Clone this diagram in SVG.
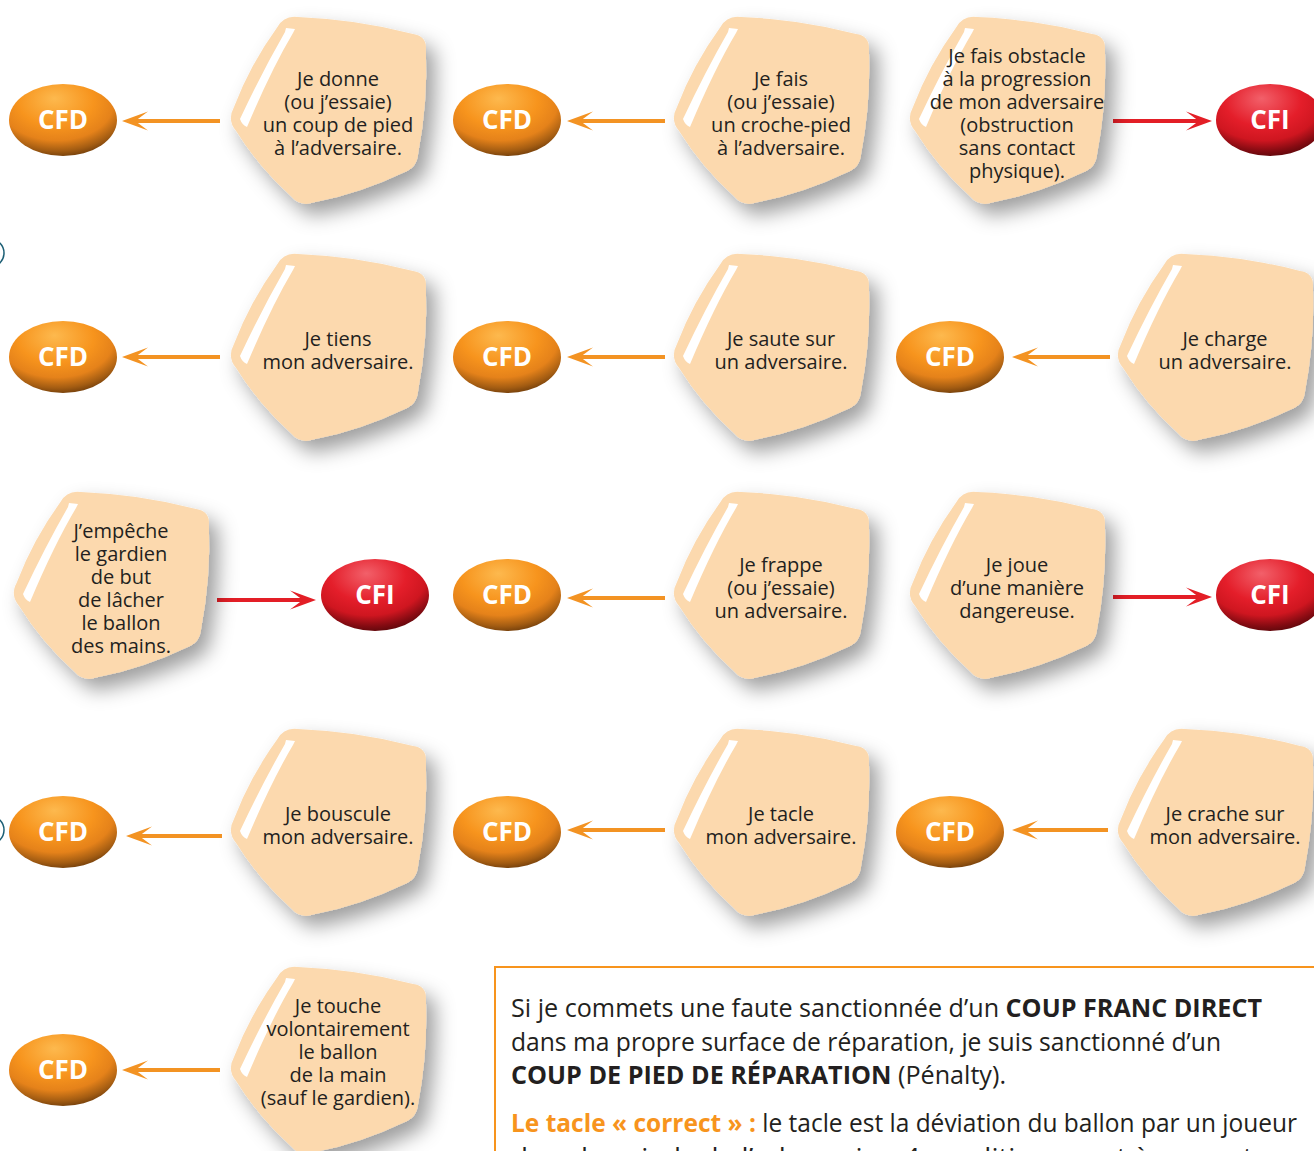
<svg xmlns="http://www.w3.org/2000/svg" xmlns:xlink="http://www.w3.org/1999/xlink" width="1314" height="1151" viewBox="0 0 1314 1151">
<style>
.pent{fill:#FCD9AE;filter:url(#sh)}
.hl{fill:#FFFFFF}
.nt{font-family:"Open Sans","Noto Sans","Liberation Sans",sans-serif;font-size:20px;fill:#231F20;text-anchor:middle}
.el{font-family:"Open Sans","Noto Sans","Liberation Sans",sans-serif;font-size:26px;font-weight:700;fill:#FFFFFF;text-anchor:middle}
.cfd{fill:url(#gO)}
.cfi{fill:url(#gR)}
.ao{stroke:#F39323;stroke-width:4;fill:none;marker-end:url(#ho)}
.ar{stroke:#E31E26;stroke-width:4;fill:none;marker-end:url(#hr)}
.bt{font-family:"Open Sans","Noto Sans","Liberation Sans",sans-serif;font-size:25px;fill:#231F20}
.b{font-weight:700}
.or{fill:#F7941D;font-weight:700}
.mark{fill:none;stroke:#1B5E74;stroke-width:1.5}
</style>
<defs>
<filter id="sh" x="-20%" y="-20%" width="160%" height="160%">
<feDropShadow dx="9" dy="11" stdDeviation="10" flood-color="#000000" flood-opacity="0.38"/>
</filter>
<radialGradient id="gO" cx="0.45" cy="0.28" r="0.78" fx="0.42" fy="0.2">
<stop offset="0" stop-color="#FDB94E"/>
<stop offset="0.45" stop-color="#F7941D"/>
<stop offset="0.68" stop-color="#E5821A"/>
<stop offset="0.85" stop-color="#A35C12"/>
<stop offset="1" stop-color="#5A3008"/>
</radialGradient>
<radialGradient id="gR" cx="0.45" cy="0.28" r="0.78" fx="0.42" fy="0.2">
<stop offset="0" stop-color="#F2606A"/>
<stop offset="0.45" stop-color="#E41E2A"/>
<stop offset="0.68" stop-color="#CF1620"/>
<stop offset="0.85" stop-color="#850B12"/>
<stop offset="1" stop-color="#4A0608"/>
</radialGradient>
<path id="pent" d="M6.7,-12.3 Q23.2,-55.4 50.3,-92.7 Q57,-105 70.9,-103 Q129.5,-100.8 186.1,-86 Q200,-84 198.9,-70 Q201,-17.5 191.1,34 Q190,48 176.7,52.4 Q133.4,73.2 86.3,82.6 Q73,87 64,76.3 Q31.9,47.4 9,10.7 Q0,0 6.7,-12.3 Z"/>
<path id="hl" d="M59,-92 L68,-91 L66,-87 Q44,-50 20,7 Q15,5 13,-1 Q35,-48 58,-88 Z"/>
<marker id="ho" viewBox="-28 -11 30 22" refX="-10" refY="0" markerWidth="30" markerHeight="22" markerUnits="userSpaceOnUse" orient="auto">
<path d="M0,0 L-26,-9.5 Q-16,-2 -13,0 Q-16,2 -26,9.5 Z" fill="#F39323"/>
</marker>
<marker id="hr" viewBox="-28 -11 30 22" refX="-10" refY="0" markerWidth="30" markerHeight="22" markerUnits="userSpaceOnUse" orient="auto">
<path d="M0,0 L-26,-9.5 Q-16,-2 -13,0 Q-16,2 -26,9.5 Z" fill="#E31E26"/>
</marker>
</defs>
<rect x="0" y="0" width="1314" height="1151" fill="#FFFFFF"/>
<circle class="mark" cx="-10" cy="253" r="14"/>
<circle class="mark" cx="-10" cy="830" r="14"/>

<g id="connectors">
<line class="ao" x1="220" y1="121" x2="132" y2="121"/>
<line class="ao" x1="665" y1="121" x2="577" y2="121"/>
<line class="ar" x1="1113" y1="121" x2="1202" y2="121"/>
<line class="ao" x1="220" y1="357" x2="132" y2="357"/>
<line class="ao" x1="665" y1="357" x2="577" y2="357"/>
<line class="ao" x1="1110" y1="357" x2="1022" y2="357"/>
<line class="ar" x1="217" y1="600" x2="306" y2="600"/>
<line class="ao" x1="665" y1="598" x2="577" y2="598"/>
<line class="ar" x1="1113" y1="597" x2="1202" y2="597"/>
<line class="ao" x1="222" y1="836" x2="136" y2="836"/>
<line class="ao" x1="665" y1="830" x2="577" y2="830"/>
<line class="ao" x1="1108" y1="830" x2="1022" y2="830"/>
<line class="ao" x1="220" y1="1070" x2="132" y2="1070"/>
</g>

<g id="n1" transform="translate(227,120)"><use xlink:href="#pent" class="pent"/><use xlink:href="#hl" class="hl"/>
<text class="nt"><tspan x="111" y="-34.5">Je donne</tspan><tspan x="111" y="-11.5">(ou j’essaie)</tspan><tspan x="111" y="11.5">un coup de pied</tspan><tspan x="111" y="34.5">à l’adversaire.</tspan></text></g>
<g id="n2" transform="translate(670,120)"><use xlink:href="#pent" class="pent"/><use xlink:href="#hl" class="hl"/>
<text class="nt"><tspan x="111" y="-34.5">Je fais</tspan><tspan x="111" y="-11.5">(ou j’essaie)</tspan><tspan x="111" y="11.5">un croche-pied</tspan><tspan x="111" y="34.5">à l’adversaire.</tspan></text></g>
<g id="n3" transform="translate(906,120)"><use xlink:href="#pent" class="pent"/><use xlink:href="#hl" class="hl"/>
<text class="nt"><tspan x="111" y="-57.5">Je fais obstacle</tspan><tspan x="111" y="-34.5">à la progression</tspan><tspan x="111" y="-11.5">de mon adversaire</tspan><tspan x="111" y="11.5">(obstruction</tspan><tspan x="111" y="34.5">sans contact</tspan><tspan x="111" y="57.5">physique).</tspan></text></g>
<g id="n4" transform="translate(227,357)"><use xlink:href="#pent" class="pent"/><use xlink:href="#hl" class="hl"/>
<text class="nt"><tspan x="111" y="-11.5">Je tiens</tspan><tspan x="111" y="11.5">mon adversaire.</tspan></text></g>
<g id="n5" transform="translate(670,357)"><use xlink:href="#pent" class="pent"/><use xlink:href="#hl" class="hl"/>
<text class="nt"><tspan x="111" y="-11.5">Je saute sur</tspan><tspan x="111" y="11.5">un adversaire.</tspan></text></g>
<g id="n6" transform="translate(1114,357)"><use xlink:href="#pent" class="pent"/><use xlink:href="#hl" class="hl"/>
<text class="nt"><tspan x="111" y="-11.5">Je charge</tspan><tspan x="111" y="11.5">un adversaire.</tspan></text></g>
<g id="n7" transform="translate(10,595)"><use xlink:href="#pent" class="pent"/><use xlink:href="#hl" class="hl"/>
<text class="nt"><tspan x="111" y="-57.5">J’empêche</tspan><tspan x="111" y="-34.5">le gardien</tspan><tspan x="111" y="-11.5">de but</tspan><tspan x="111" y="11.5">de lâcher</tspan><tspan x="111" y="34.5">le ballon</tspan><tspan x="111" y="57.5">des mains.</tspan></text></g>
<g id="n8" transform="translate(670,595)"><use xlink:href="#pent" class="pent"/><use xlink:href="#hl" class="hl"/>
<text class="nt"><tspan x="111" y="-23">Je frappe</tspan><tspan x="111" y="0">(ou j’essaie)</tspan><tspan x="111" y="23">un adversaire.</tspan></text></g>
<g id="n9" transform="translate(906,595)"><use xlink:href="#pent" class="pent"/><use xlink:href="#hl" class="hl"/>
<text class="nt"><tspan x="111" y="-23">Je joue</tspan><tspan x="111" y="0">d’une manière</tspan><tspan x="111" y="23">dangereuse.</tspan></text></g>
<g id="n10" transform="translate(227,832)"><use xlink:href="#pent" class="pent"/><use xlink:href="#hl" class="hl"/>
<text class="nt"><tspan x="111" y="-11.5">Je bouscule</tspan><tspan x="111" y="11.5">mon adversaire.</tspan></text></g>
<g id="n11" transform="translate(670,832)"><use xlink:href="#pent" class="pent"/><use xlink:href="#hl" class="hl"/>
<text class="nt"><tspan x="111" y="-11.5">Je tacle</tspan><tspan x="111" y="11.5">mon adversaire.</tspan></text></g>
<g id="n12" transform="translate(1114,832)"><use xlink:href="#pent" class="pent"/><use xlink:href="#hl" class="hl"/>
<text class="nt"><tspan x="111" y="-11.5">Je crache sur</tspan><tspan x="111" y="11.5">mon adversaire.</tspan></text></g>
<g id="n13" transform="translate(227,1070)"><use xlink:href="#pent" class="pent"/><use xlink:href="#hl" class="hl"/>
<text class="nt"><tspan x="111" y="-57">Je touche</tspan><tspan x="111" y="-34">volontairement</tspan><tspan x="111" y="-11">le ballon</tspan><tspan x="111" y="12">de la main</tspan><tspan x="111" y="35">(sauf le gardien).</tspan></text></g>

<g id="cfd1"><ellipse class="cfd" cx="63" cy="120" rx="54" ry="36"/><text class="el" x="63" y="129">CFD</text></g>
<g id="cfd2"><ellipse class="cfd" cx="507" cy="120" rx="54" ry="36"/><text class="el" x="507" y="129">CFD</text></g>
<g id="cfi1"><ellipse class="cfi" cx="1270" cy="120" rx="54" ry="36"/><text class="el" x="1270" y="129">CFI</text></g>
<g id="cfd3"><ellipse class="cfd" cx="63" cy="357" rx="54" ry="36"/><text class="el" x="63" y="366">CFD</text></g>
<g id="cfd4"><ellipse class="cfd" cx="507" cy="357" rx="54" ry="36"/><text class="el" x="507" y="366">CFD</text></g>
<g id="cfd5"><ellipse class="cfd" cx="950" cy="357" rx="54" ry="36"/><text class="el" x="950" y="366">CFD</text></g>
<g id="cfi2"><ellipse class="cfi" cx="375" cy="595" rx="54" ry="36"/><text class="el" x="375" y="604">CFI</text></g>
<g id="cfd6"><ellipse class="cfd" cx="507" cy="595" rx="54" ry="36"/><text class="el" x="507" y="604">CFD</text></g>
<g id="cfi3"><ellipse class="cfi" cx="1270" cy="595" rx="54" ry="36"/><text class="el" x="1270" y="604">CFI</text></g>
<g id="cfd7"><ellipse class="cfd" cx="63" cy="832" rx="54" ry="36"/><text class="el" x="63" y="841">CFD</text></g>
<g id="cfd8"><ellipse class="cfd" cx="507" cy="832" rx="54" ry="36"/><text class="el" x="507" y="841">CFD</text></g>
<g id="cfd9"><ellipse class="cfd" cx="950" cy="832" rx="54" ry="36"/><text class="el" x="950" y="841">CFD</text></g>
<g id="cfd10"><ellipse class="cfd" cx="63" cy="1070" rx="54" ry="36"/><text class="el" x="63" y="1079">CFD</text></g>

<g id="note">
<rect x="495" y="967" width="840" height="210" fill="#FFFFFF" stroke="#F7941D" stroke-width="2"/>
<text class="bt" x="511" y="1017" textLength="751" lengthAdjust="spacingAndGlyphs">Si je commets une faute sanctionnée d’un <tspan class="b">COUP FRANC DIRECT</tspan></text>
<text class="bt" x="511" y="1051" textLength="710" lengthAdjust="spacingAndGlyphs">dans ma propre surface de réparation, je suis sanctionné d’un</text>
<text class="bt" x="511" y="1084" textLength="495" lengthAdjust="spacingAndGlyphs"><tspan class="b">COUP DE PIED DE RÉPARATION</tspan> (Pénalty).</text>
<text class="bt" x="511" y="1132" textLength="786" lengthAdjust="spacingAndGlyphs"><tspan class="or">Le tacle « correct » :</tspan> le tacle est la déviation du ballon par un joueur</text>
<text class="bt" x="511" y="1166" textLength="769" lengthAdjust="spacingAndGlyphs">dans les pieds de l’adversaire. 4 conditions sont à respecter</text>
</g>
</svg>
